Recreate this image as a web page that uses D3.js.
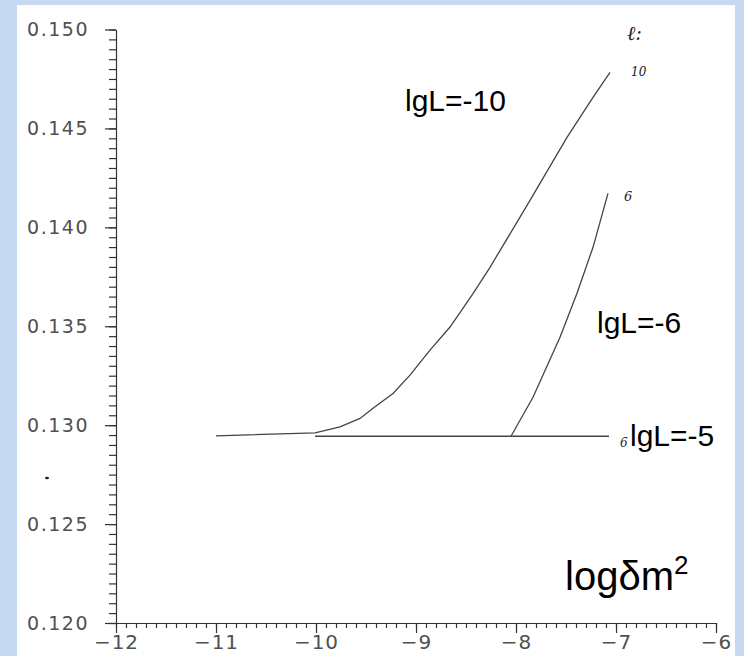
<html lang="en">
<head>
  <meta http-equiv="Content-Type" content="text/html; charset=utf-8" />
  <script src="https://d3js.org/d3.v7.min.js"></script>
  <style>
    body { margin: 0; background: #c6d9f1; }
  </style>
</head>
<body>
  <div id="divId"></div>
  <script>
    'use strict';
    const width = 744;
    const height = 656;

    // data
    const xTicks = [-12, -11, -10, -9, -8, -7, -6];
    const yTicks = [0.120, 0.125, 0.130, 0.135, 0.140, 0.145, 0.150];

    const lgL10X = [-11.0, -10.01, -9.76, -9.56, -9.43, -9.23, -9.06, -8.86, -8.66, -8.43, -8.26, -7.86, -7.49, -7.23, -7.06];
    const lgL10Y = [0.12946, 0.12961, 0.12991, 0.13034, 0.13085, 0.13160, 0.13253, 0.13379, 0.13496, 0.13665, 0.13798, 0.14136, 0.14455, 0.14657, 0.14783];
    const lgL6X = [-8.05, -7.83, -7.56, -7.39, -7.23, -7.08];
    const lgL6Y = [0.12944, 0.13141, 0.13444, 0.13667, 0.13899, 0.14172];
    const lgL5X = [-10.01, -7.07];
    const lgL5Y = [0.12944, 0.12944];

    const svg = d3.select("#divId")
      .append("svg")
      .attr("width", width)
      .attr("height", height);

    // blue frame + white paper
    svg.append("rect").attr("width", width).attr("height", height).attr("fill", "#c6d9f1");
    svg.append("rect").attr("x", 17).attr("y", 5).attr("width", 718).attr("height", 651).attr("fill", "white");

    const x = d3.scaleLinear().domain([-12, -6]).range([116, 716]);
    const y = d3.scaleLinear().domain([0.120, 0.150]).range([623, 29.5]);

    const minus = v => (v < 0 ? "\u2212" + Math.abs(v) : "" + v);

    // minor ticks
    svg.append("g")
      .attr("transform", `translate(0, ${y(0.120)})`)
      .call(d3.axisBottom(x).tickValues(d3.range(-12, -5.95, 0.1)).tickSize(5).tickFormat(""))
      .call(g => g.select(".domain").remove());
    svg.append("g")
      .attr("transform", `translate(${x(-12)}, 0)`)
      .call(d3.axisLeft(y).tickValues(d3.range(0.120, 0.15001, 0.0005)).tickSize(7).tickFormat(""))
      .call(g => g.select(".domain").remove());

    // major ticks + labels
    const xAxis = svg.append("g")
      .attr("transform", `translate(0, ${y(0.120)})`)
      .call(d3.axisBottom(x).tickValues(xTicks).tickSize(10).tickSizeOuter(0).tickFormat(minus));
    xAxis.selectAll("text")
      .attr("y", 12)
      .style("font-family", "DejaVu Sans")
      .style("font-size", "20px")
      .style("letter-spacing", "1px")
      .attr("fill", "#505050");

    const yAxis = svg.append("g")
      .attr("transform", `translate(${x(-12)}, 0)`)
      .call(d3.axisLeft(y).tickValues(yTicks).tickSize(11).tickSizeOuter(0).tickFormat(d3.format(".3f")));
    yAxis.selectAll("text")
      .attr("x", -27)
      .style("font-family", "DejaVu Sans")
      .style("font-size", "19px")
      .style("letter-spacing", "1.5px")
      .attr("fill", "#505050");

    svg.selectAll(".domain, .tick line").attr("stroke", "#333").attr("stroke-width", 1.2);

    // curves
    const line = d3.line().x(d => x(d[0])).y(d => y(d[1]));
    const curves = [
      [lgL10X, lgL10Y],
      [lgL6X, lgL6Y],
      [lgL5X, lgL5Y]
    ];
    curves.forEach(([xs, ys]) => {
      svg.append("path")
        .attr("d", line(d3.zip(xs, ys)))
        .attr("fill", "none")
        .attr("stroke", "#444")
        .attr("stroke-width", 1.3);
    });

    // typed labels
    const label = (tx, ty, txt, size) => svg.append("text")
      .attr("x", tx).attr("y", ty)
      .style("font-family", "Liberation Sans, Arial")
      .style("font-size", size + "px")
      .attr("fill", "black")
      .text(txt);
    label(405, 111, "lgL=-10", 30);
    label(597, 333, "lgL=-6", 30);
    label(630, 446, "lgL=-5", 30);

    const axisTitle = svg.append("text")
      .attr("x", 565).attr("y", 590)
      .style("font-family", "Liberation Sans, Arial")
      .style("font-size", "40px")
      .attr("fill", "black");
    axisTitle.append("tspan").text("log\u03B4m");
    axisTitle.append("tspan").attr("dy", -16).style("font-size", "26px").text("2");

    // handwritten notes from the scan
    const hand = (tx, ty, txt, size) => svg.append("text")
      .attr("x", tx).attr("y", ty)
      .style("font-family", "DejaVu Serif")
      .style("font-style", "italic")
      .style("font-size", size + "px")
      .attr("fill", "#222")
      .text(txt);
    hand(627, 40, "\u2113:", 20);
    hand(631, 76, "10", 12);
    hand(624, 201, "6", 13);
    hand(620, 447, "6", 12);

    // stray speck on the scan
    svg.append("ellipse").attr("cx", 47).attr("cy", 478).attr("rx", 2).attr("ry", 1.2).attr("fill", "#222");
  </script>
</body>
</html>
